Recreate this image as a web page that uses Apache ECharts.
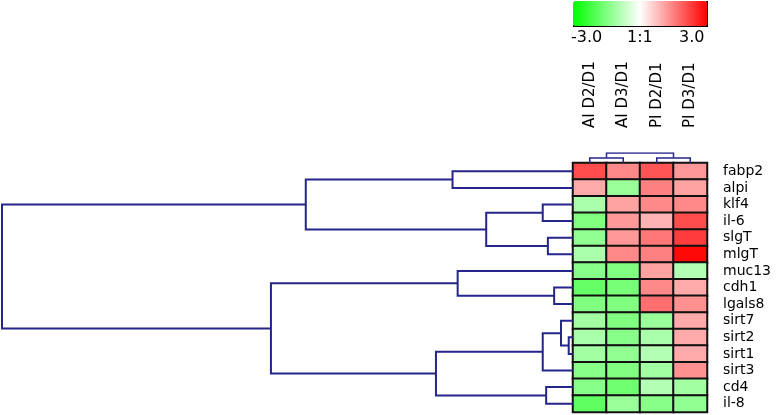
<!DOCTYPE html>
<html>
<head>
<meta charset="utf-8">
<script src="https://cdn.jsdelivr.net/npm/echarts@6/dist/echarts.min.js"></script>
<style>
    html, body {margin: 0; padding: 0; background: #fff;}
    #heatchart {width: 778px; height: 415px;}
</style>
</head>
<body>
<div id="heatchart"></div>
<script>
var colNames = ['AI D2/D1', 'AI D3/D1', 'PI D2/D1', 'PI D3/D1'];
var rowNames = ['fabp2', 'alpi', 'klf4', 'il-6', 'slgT', 'mlgT', 'muc13', 'cdh1',
    'lgals8', 'sirt7', 'sirt2', 'sirt1', 'sirt3', 'cd4', 'il-8'];

// log ratio per gene, one value per column
var fabp2 = [2.1, 1.4, 2.0, 1.2];
var alpi = [1.0, -1.2, 1.5, 1.1];
var klf4 = [-1.0, 1.1, 1.4, 1.4];
var il6 = [-1.5, 1.2, 0.9, 2.1];
var sIgT = [-1.3, 1.2, 1.6, 2.3];
var mIgT = [-1.0, 1.4, 1.5, 2.9];
var muc13 = [-1.4, -1.5, 1.1, -0.9];
var cdh1 = [-1.8, -1.6, 1.4, 1.0];
var lgals8 = [-1.5, -1.5, 1.7, 1.3];
var sirt7 = [-1.1, -1.5, -1.2, 1.0];
var sirt2 = [-1.0, -1.4, -1.0, 1.0];
var sirt1 = [-1.1, -1.3, -0.9, 1.0];
var sirt3 = [-1.4, -1.5, -1.1, 1.3];
var cd4 = [-1.4, -1.7, -0.9, -1.1];
var il8 = [-1.9, -1.2, -1.4, -1.3];
var rowValues = [fabp2, alpi, klf4, il6, sIgT, mIgT, muc13, cdh1, lgals8,
    sirt7, sirt2, sirt1, sirt3, cd4, il8];

// merges: [a, b, height]; index < n is a leaf, otherwise n + merge number
var rowMerge = [
    [10, 11, 0.0075],
    [9, 15, 0.021],
    [7, 8, 0.033],
    [4, 5, 0.044],
    [13, 14, 0.047],
    [2, 3, 0.053],
    [16, 12, 0.053],
    [20, 18, 0.152],
    [6, 17, 0.202],
    [0, 1, 0.211],
    [21, 19, 0.240],
    [24, 22, 0.468],
    [23, 25, 0.529],
    [26, 27, 1.0]
];
var colMerge = [
    [0, 1, 0.5],
    [2, 3, 0.5],
    [4, 5, 1.0]
];

var legendMin = -3, legendMax = 3;
var legendLabels = ['-3.0', '1:1', '3.0'];

function treeLines(merge, n, vertical) {
    var pos = [], hgt = [], out = [];
    for (var i = 0; i < n; i++) {
        pos.push(i + 0.5);
        hgt.push(0);
    }
    for (var k = 0; k < merge.length; k++) {
        var a = merge[k][0], b = merge[k][1], h = merge[k][2];
        var pts = [[hgt[a], pos[a]], [h, pos[a]], [h, pos[b]], [hgt[b], pos[b]]];
        if (vertical) {
            pts = pts.map(function (p) {
                return [p[1], p[0]];
            });
        }
        out.push({coords: pts});
        pos.push((pos[a] + pos[b]) / 2);
        hgt.push(h);
    }
    return out;
}

var heatData = [];
for (var r = 0; r < rowValues.length; r++) {
    for (var c = 0; c < colNames.length; c++) {
        heatData.push([c, r, rowValues[r][c]]);
    }
}

var myChart = echarts.init(document.getElementById('heatchart'));
var option = {
    animation: false,
    textStyle: {fontFamily: 'DejaVu Sans'},
    grid: [
        {left: 573, top: 163, width: 134, height: 249},
        {left: 2, top: 163, width: 571, height: 249},
        {left: 573, top: 153, width: 134, height: 10}
    ],
    xAxis: [{
        type: 'category',
        gridIndex: 0,
        position: 'top',
        data: colNames,
        axisLine: {show: false},
        axisTick: {show: false},
        axisLabel: {rotate: -90, margin: 35, fontSize: 15, color: '#000', interval: 0}
    }, {
        type: 'value', gridIndex: 1, min: 0, max: 1, inverse: true, show: false
    }, {
        type: 'value', gridIndex: 2, min: 0, max: colNames.length, show: false
    }],
    yAxis: [{
        type: 'category',
        gridIndex: 0,
        position: 'right',
        inverse: true,
        data: rowNames,
        axisLine: {show: false},
        axisTick: {show: false},
        axisLabel: {margin: 16, fontSize: 14, color: '#000', interval: 0}
    }, {
        type: 'value', gridIndex: 1, min: 0, max: rowNames.length, inverse: true, show: false
    }, {
        type: 'value', gridIndex: 2, min: 0, max: 1, show: false
    }],
    visualMap: {
        type: 'continuous',
        seriesIndex: 0,
        min: legendMin,
        max: legendMax,
        orient: 'horizontal',
        left: 573,
        top: 1,
        padding: 0,
        itemWidth: 25,
        itemHeight: 134,
        calculable: false,
        hoverLink: false,
        text: null,
        inRange: {color: ['#00ff00', '#ffffff', '#ff0000']}
    },
    graphic: [{
        type: 'polyline',
        shape: {points: [[573, 26], [707, 26], [707, 1]]},
        style: {stroke: '#000', lineWidth: 2, fill: null}
    }, {
        type: 'text', left: 571, top: 30,
        style: {text: legendLabels[0], fontSize: 16, fill: '#000', fontFamily: 'DejaVu Sans'}
    }, {
        type: 'text', left: 627, top: 30,
        style: {text: legendLabels[1], fontSize: 16, fill: '#000', fontFamily: 'DejaVu Sans'}
    }, {
        type: 'text', left: 679, top: 30,
        style: {text: legendLabels[2], fontSize: 16, fill: '#000', fontFamily: 'DejaVu Sans'}
    }],
    series: [{
        name: 'heat',
        type: 'heatmap',
        xAxisIndex: 0,
        yAxisIndex: 0,
        data: heatData,
        itemStyle: {borderColor: '#111', borderWidth: 2},
        emphasis: {disabled: true}
    }, {
        type: 'lines',
        coordinateSystem: 'cartesian2d',
        xAxisIndex: 1,
        yAxisIndex: 1,
        polyline: true,
        silent: true,
        lineStyle: {color: '#25258c', width: 2, opacity: 1},
        data: treeLines(rowMerge, rowNames.length, false)
    }, {
        type: 'lines',
        coordinateSystem: 'cartesian2d',
        xAxisIndex: 2,
        yAxisIndex: 2,
        polyline: true,
        silent: true,
        lineStyle: {color: '#25258c', width: 1.5, opacity: 1},
        data: treeLines(colMerge, colNames.length, true)
    }]
};

option && myChart.setOption(option);
</script>
</body>
</html>
